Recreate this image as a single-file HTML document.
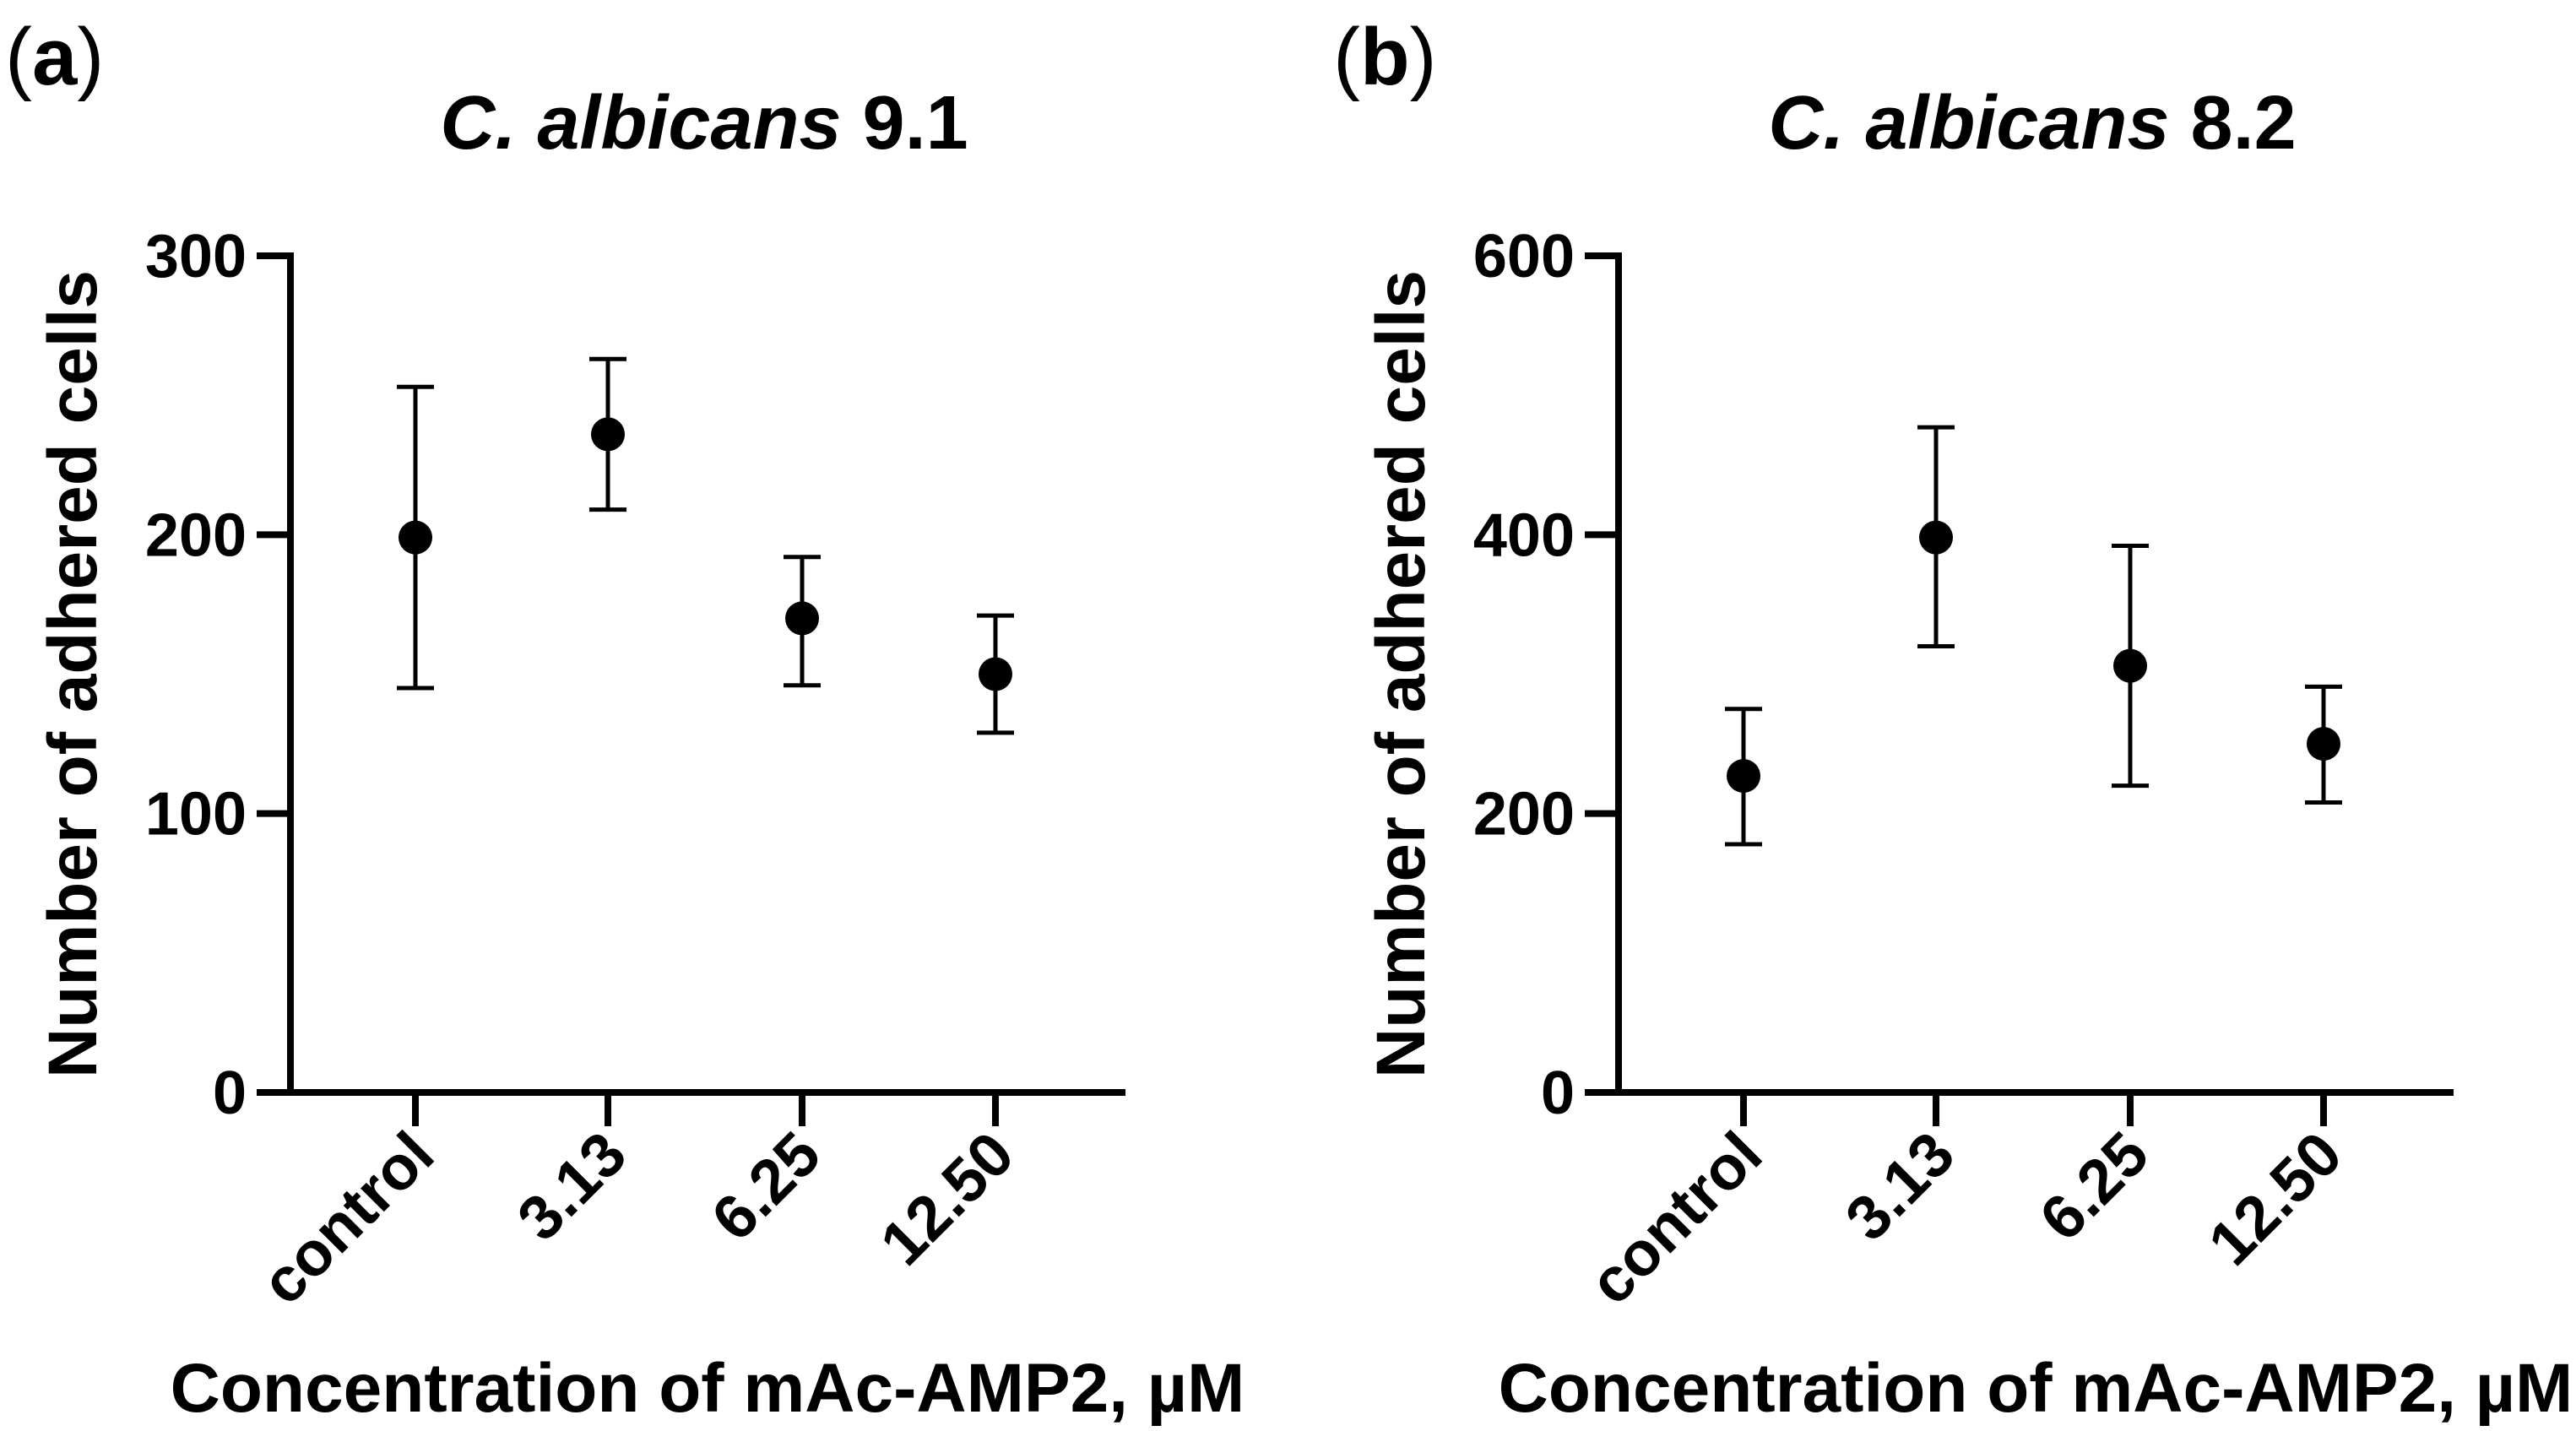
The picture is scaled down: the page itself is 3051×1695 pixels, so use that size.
<!DOCTYPE html>
<html><head><meta charset="utf-8"><style>
html,body{margin:0;padding:0;background:#fff;}
svg{display:block;font-family:"Liberation Sans",Arial,sans-serif;font-weight:bold;}
</style></head><body>
<svg id="fig" width="3051" height="1695" viewBox="0 0 3051 1695"></svg>
<script>
const categories = ["control","3.13","6.25","12.50"];
const meanA = [199,236,170,150];
const lowA = [145,209,146,129];
const highA = [253,263,192,171];
const ticksA = [0,100,200,300];
const meanB = [227,398,306,250];
const lowB = [178,320,220,208];
const highB = [275,477,392,291];
const ticksB = [0,200,400,600];

const NS="http://www.w3.org/2000/svg";
const svg=document.getElementById('fig');
function mk(tag,attrs,parent,txt){const e=document.createElementNS(NS,tag);for(const k in attrs)e.setAttribute(k,attrs[k]);if(txt!==undefined)e.textContent=txt;(parent||svg).appendChild(e);return e;}

function panel(id,letter,titleIt,titleNum,ox,mean,low,high,ticks){
  const g=mk('g',{});
  
  
  const axX=ox, yTop=303, yBot=1294, xEnd=ox+989;
  const catX=[148,376,606,835];
  const yMax=ticks[ticks.length-1];
  const y=v=>yBot-(v/yMax)*(yBot-yTop);
  const x=i=>axX+catX[i];
  const pl=mk('text',{x:ox-338,y:100,'font-size':96,'font-weight':'bold'},g);
  
  
  mk('tspan',{'font-weight':'normal'},pl,'(');mk('tspan',{},pl,letter);mk('tspan',{'font-weight':'normal'},pl,')');
  const t=mk('text',{x:axX+490,y:176,'font-size':90,'text-anchor':'middle'},g);
  
  
  mk('tspan',{'font-style':'italic'},t,titleIt);mk('tspan',{},t,' '+titleNum);
  const ya=mk('line',{x1:axX,y1:yTop-4,x2:axX,y2:yBot+4,stroke:'#000','stroke-width':8},g);
  
  
  const xa=mk('line',{x1:axX-4,y1:yBot,x2:xEnd,y2:yBot,stroke:'#000','stroke-width':8},g);
  
  
  ticks.forEach(v=>{
    const l=mk('line',{x1:axX-40,y1:y(v),x2:axX,y2:y(v),stroke:'#000','stroke-width':8},g);
    
    
    const tl=mk('text',{x:axX-52,y:y(v)+25,'font-size':72,'text-anchor':'end'},g,String(v));
    
    
  });
  categories.forEach((c,i)=>{
    const l=mk('line',{x1:x(i),y1:yBot,x2:x(i),y2:yBot+40,stroke:'#000','stroke-width':8},g);
    
    
    const tl=mk('text',{x:x(i)+26,y:yBot+78,'font-size':74,'text-anchor':'end',transform:`rotate(-45 ${x(i)+26} ${yBot+78})`},g,c);
    
    
    const eb=mk('path',{d:`M${x(i)-22},${y(high[i])}H${x(i)+22}M${x(i)},${y(high[i])}V${y(low[i])}M${x(i)-22},${y(low[i])}H${x(i)+22}`,stroke:'#000','stroke-width':5,fill:'none'},g);
    
    
    const p=mk('circle',{cx:x(i),cy:y(mean[i]),r:20,fill:'#000'},g);
    
    
  });
  const yt=mk('text',{x:0,y:0,'font-size':82,'text-anchor':'middle',transform:`translate(${axX-230},${(yTop+yBot)/2}) rotate(-90)`},g,'Number of adhered cells');
  
  
  const xt=mk('text',{x:axX+494,y:1672,'font-size':82,'text-anchor':'middle'},g,'Concentration of mAc-AMP2, µM');
  
  
}
panel('a','a','C. albicans','9.1',344,meanA,lowA,highA,ticksA);
panel('b','b','C. albicans','8.2',1917,meanB,lowB,highB,ticksB);
</script>
</body></html>
